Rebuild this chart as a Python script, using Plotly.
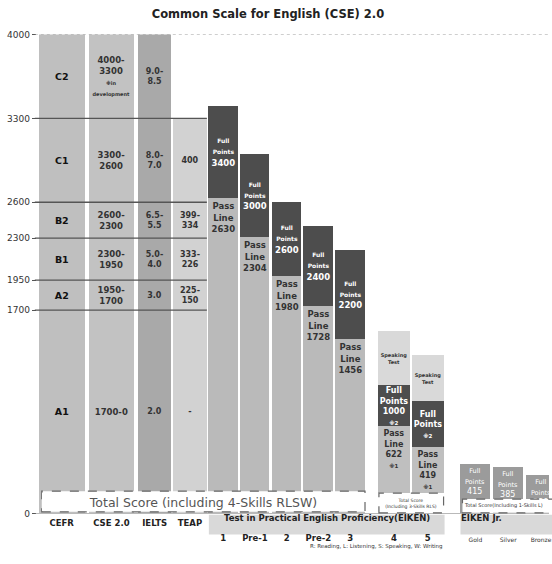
import plotly.graph_objects as go

# ---------------- data ----------------
levels = [0, 1700, 1950, 2300, 2600, 3300, 4000]
cefr_labels = ["A1", "A2", "B1", "B2", "C1", "C2"]
cse_labels = ["1700-0", "1950-<br>1700", "2300-<br>1950", "2600-<br>2300", "3300-<br>2600", "4000-<br>3300"]
cse_note = ["※in", "development"]
ielts_labels = ["2.0", "3.0", "5.0-<br>4.0", "6.5-<br>5.5", "8.0-<br>7.0", "9.0-<br>8.5"]
teap_levels = [0, 1700, 1950, 2300, 2600, 3300]
teap_labels = ["-", "225-<br>150", "333-<br>226", "399-<br>334", "400"]

eiken_grades = ["1", "Pre-1", "2", "Pre-2", "3"]
eiken_pass = [2630, 2304, 1980, 1728, 1456]
eiken_full = [3400, 3000, 2600, 2400, 2200]

lower_grades = ["4", "5"]
lower_pass = [622, 419]
lower_full_rl = [1000, 850]
lower_full_rl_label = ["1000", ""]
lower_full_rls = [1500, 1275]

jr_grades = ["Gold", "Silver", "Bronze"]
jr_full = [415, 385, 320]

col_names_1 = ["CEFR", "CSE 2.0"]
col_names_2 = ["IELTS", "TEAP"]

# ---------------- layout helpers ----------------
W, H = 552, 564
FONT = "DejaVu Sans"


def fx(p):
    return p / W


def fy(p):
    return 1 - p / H


Y0_PX, Y1_PX = 518, 30          # pixel rows of 0 and 4000 on the main scale
ydom = [fy(Y0_PX), fy(Y1_PX)]
Y2_ZERO_PX, Y2_SCALE = 497, 0.110   # EIKEN grade 4/5 drawn on their own scale
y2_lo = -(Y0_PX - Y2_ZERO_PX) / Y2_SCALE
y2_hi = y2_lo + (Y0_PX - Y1_PX) / Y2_SCALE


def seg(vals):
    return vals[:-1], [b - a for a, b in zip(vals[:-1], vals[1:])]


def sz(s, size):
    return "<span style='font-size:%spx'>%s</span>" % (size, s)


def bar(x, base, y, text, xaxis, color, width, tsize, tcolor,
        anchor="middle", yaxis="y", weight="bold"):
    return go.Bar(x=x, base=base, y=y, text=text, xaxis=xaxis, yaxis=yaxis,
                  marker=dict(color=color, line=dict(width=0)), width=width,
                  textposition="inside", insidetextanchor=anchor, textangle=0,
                  constraintext="none", cliponaxis=True,
                  textfont=dict(family=FONT, size=tsize, color=tcolor, weight=weight),
                  hoverinfo="skip", showlegend=False)


fig = go.Figure()

# ---- CEFR / CSE ----
b, h = seg(levels)
fig.add_trace(bar([col_names_1[0]] * len(h), b, h, cefr_labels, "x", "#bfbfbf", 0.92, 9.5, "#111"))
cse_text = cse_labels[:-1] + [cse_labels[-1] + "<br>" + "<br>".join(sz(s, 5) for s in cse_note)]
fig.add_trace(bar([col_names_1[1]] * len(h), b, h, cse_text, "x", "#c2c2c2", 0.92, 8.5, "#333"))

# ---- IELTS / TEAP ----
fig.add_trace(bar([col_names_2[0]] * len(h), b, h, ielts_labels, "x2", "#a9a9a9", 0.94, 8, "#333"))
tb, th = seg(teap_levels)
fig.add_trace(bar([col_names_2[1]] * len(th), tb, th, teap_labels, "x2", "#d2d2d2", 0.94, 8, "#333"))

# ---- EIKEN 1 .. 3 ----
pass_text = ["Pass<br>Line<br>%d" % v for v in eiken_pass]
full_text = [sz("Full", 6) + "<br>" + sz("Points", 6) + "<br>%d" % v for v in eiken_full]
fig.add_trace(bar(eiken_grades, [0] * len(eiken_pass), eiken_pass, pass_text, "x3",
                  "#bababa", 0.93, 8.5, "#333", anchor="end"))
fig.add_trace(bar(eiken_grades, eiken_pass, [f - p for f, p in zip(eiken_full, eiken_pass)],
                  full_text, "x3", "#4d4d4d", 0.93, 8.5, "#ffffff"))

# ---- EIKEN 4, 5 ----
lp_text = ["Pass<br>Line<br>%d<br>%s" % (v, sz("※1", 5.5)) for v in lower_pass]
lf_text = ["Full<br>Points<br>" + (lab + "<br>" if lab else "") + sz("※2", 5.5) for lab in lower_full_rl_label]
fig.add_trace(bar(lower_grades, [0, 0], lower_pass, lp_text, "x4", "#bfbfbf", 0.94, 8, "#333",
                  anchor="end", yaxis="y2"))
fig.add_trace(bar(lower_grades, lower_pass, [f - p for f, p in zip(lower_full_rl, lower_pass)],
                  lf_text, "x4", "#4d4d4d", 0.94, 8, "#ffffff", yaxis="y2"))
fig.add_trace(bar(lower_grades, lower_full_rl, [f - p for f, p in zip(lower_full_rls, lower_full_rl)],
                  ["Speaking<br>Test"] * 2, "x4", "#d9d9d9", 0.94, 5, "#333", yaxis="y2"))

# ---- EIKEN Jr. ----
jr_text = [sz("Full", 6.5) + "<br>" + sz("Points", 6.5) + "<br>%d" % v for v in jr_full]
fig.add_trace(bar(jr_grades, [0] * 3, jr_full, jr_text, "x5", "#9b9b9b", 0.91, 8, "#ffffff",
                  anchor="end", weight="normal"))

# ---------------- axes ----------------
tick_bold = dict(family=FONT, size=8.5, color="#222", weight="bold")
common_x = dict(type="category", showgrid=False, zeroline=False, showline=False, ticks="",
                fixedrange=True, anchor="y")
fig.update_layout(
    xaxis=dict(common_x, domain=[fx(37), fx(137)], range=[-0.5, 1.5], tickfont=tick_bold,
               ticklabelstandoff=3),
    xaxis2=dict(common_x, domain=[fx(137.75), fx(208.75)], range=[-0.5, 1.5], tickfont=tick_bold,
                ticklabelstandoff=3),
    xaxis3=dict(common_x, domain=[fx(208.5), fx(368)], range=[-0.5, 4.5], tickfont=tick_bold,
                ticklabelstandoff=18),
    xaxis4=dict(common_x, domain=[fx(379), fx(447)], range=[-0.5, 1.5], tickfont=tick_bold,
                ticklabelstandoff=18, anchor="y2"),
    xaxis5=dict(common_x, domain=[fx(461.5), 1], range=[-0.5, -0.5 + (552 - 461.5) / 33],
                tickfont=dict(family=FONT, size=6, color="#333"), ticklabelstandoff=21),
    yaxis=dict(domain=ydom, range=[0, 4000], tickvals=levels, ticks="outside", ticklen=4,
               tickcolor="#555", tickfont=dict(family=FONT, size=9, color="#333"),
               showgrid=False, zeroline=False, showline=False, anchor="x", fixedrange=True),
    yaxis2=dict(overlaying="y", range=[y2_lo, y2_hi], visible=False, anchor="x4", fixedrange=True),
)

# ---------------- shapes ----------------
shapes = []
for lv in levels[1:-1]:
    shapes.append(dict(type="line", xref="paper", yref="y", x0=fx(35), x1=fx(208), y0=lv, y1=lv,
                       line=dict(color="#555", width=1.3), layer="above"))
shapes.append(dict(type="line", xref="paper", yref="y", x0=fx(35), x1=1, y0=levels[-1], y1=levels[-1],
                   line=dict(color="#999", width=1, dash="dot"), layer="above"))
shapes.append(dict(type="line", xref="paper", yref="y", x0=fx(35), x1=1, y0=levels[0], y1=levels[0],
                   line=dict(color="#777", width=1), layer="above"))
# header bands
for x0, x1 in [(210, 447), (463, 560)]:
    shapes.append(dict(type="rect", xref="paper", yref="paper", x0=fx(x0), x1=fx(x1),
                       y0=fy(539), y1=fy(519), fillcolor="#d9d9d9", line=dict(width=0), layer="below"))

# ---------------- annotations ----------------
ann = []
# total score boxes: white label box (annotation) framed by a dashed rectangle
boxes = [
    (42, 367, 495, 516, "Total Score (including 4-Skills RLSW)", 12.5, "#555", "center"),
    (381, 446, 497, 517, "Total Score<br>(Including 3-Skills RLS)", 4.5, "#333", "center"),
    (465, 560, 503, 517, "Total Score(Including 1-Skills L)", 5, "#333", "left"),
]
for x0, x1, y0, y1, txt, fs, fc, al in boxes:
    shapes.append(dict(type="rect", xref="paper", yref="paper", x0=fx(x0), x1=fx(x1),
                       y0=fy(y1), y1=fy(y0), fillcolor="white",
                       line=dict(color="#666", width=1.2, dash="dash"), layer="above"))
    ann.append(dict(xref="paper", yref="paper", x=fx((x0 + x1) / 2), y=fy((y0 + y1) / 2),
                    xanchor="center", yanchor="middle", showarrow=False, text=txt,
                    width=x1 - x0 - 3, height=y1 - y0 - 3, bgcolor="white", borderpad=0,
                    borderwidth=0, align=al, valign="middle",
                    font=dict(family=FONT, size=fs, color=fc)))

for g, v in zip(lower_grades, lower_full_rls):
    ann.append(dict(xref="x4", yref="y2", x=g, y=v, yanchor="bottom", yshift=1, showarrow=False,
                    text="Full<br>Points<br>%d※3" % v,
                    font=dict(family=FONT, size=6.5, color="#555")))
ann.append(dict(xref="paper", yref="paper", x=fx(328.5), y=fy(529), showarrow=False,
                text="Test in Practical English Proficiency(EIKEN)",
                font=dict(family=FONT, size=8.5, color="#222", weight="bold")))
ann.append(dict(xref="paper", yref="paper", x=fx(507), y=fy(529), showarrow=False,
                text="EIKEN Jr.", font=dict(family=FONT, size=8.5, color="#222", weight="bold")))
ann.append(dict(xref="paper", yref="paper", x=fx(447), y=fy(557), xanchor="right", showarrow=False,
                text="R: Reading, L: Listening, S: Speaking, W: Writing",
                font=dict(family=FONT, size=5.5, color="#333")))

fig.update_layout(
    width=W, height=H, margin=dict(l=0, r=0, t=0, b=0),
    paper_bgcolor="white", plot_bgcolor="white", barmode="overlay", bargap=0,
    showlegend=False,
    title=dict(text="Common Scale for English (CSE) 2.0", x=fx(268), xanchor="center",
               y=fy(14), yanchor="middle",
               font=dict(family=FONT, size=11.5, color="#222", weight="bold")),
    shapes=shapes, annotations=ann,
)

fig.write_html("out.html", config={"displayModeBar": False},
               post_script="document.body.style.margin='0';document.body.style.overflow='hidden';")
